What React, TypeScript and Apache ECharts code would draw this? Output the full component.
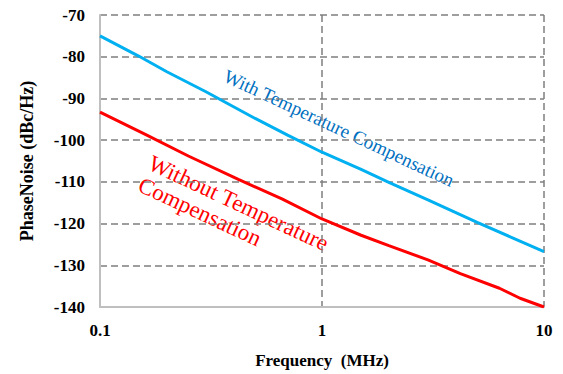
import React, { useEffect, useRef } from "react";
import * as echarts from "echarts";

// Offset frequency in MHz and phase noise in dBc/Hz, per curve
const freqWith = [0.1, 0.15, 0.2, 0.3, 0.5, 0.7, 1, 1.5, 2, 3, 5, 7, 10];
const withCompensation = [-75, -79.9, -83.6, -88.4, -94.8, -98.8, -102.9, -107.0, -110.1, -114.3, -119.7, -123.1, -126.7];
const freqWithout = [0.1, 0.16, 0.25, 0.42, 0.66, 1, 1.5, 2, 3, 4.2, 6.3, 7.8, 10];
const withoutCompensation = [-93.3, -98.6, -103.8, -109.4, -114.1, -118.9, -122.8, -125.3, -128.7, -132, -135.5, -137.9, -140];
const xTickLabels: Record<string, string> = { "0.1": "0.1", "1": "1", "10": "10" };

const SERIF = '"Liberation Serif", "Times New Roman", serif';

export default function App() {
  const ref = useRef<HTMLDivElement>(null);

  useEffect(() => {
    if (!ref.current) return;
    const chart = echarts.init(ref.current, null, { renderer: "svg" });
    const deg = Math.PI / 180;
    chart.setOption({
      animation: false,
      backgroundColor: "#ffffff",
      grid: { left: 100, right: 19, top: 15, bottom: 65 },
      xAxis: {
        type: "log",
        logBase: 10,
        min: 0.1,
        max: 10,
        name: "Frequency  (MHz)",
        nameLocation: "middle",
        nameGap: 45,
        nameTextStyle: { fontFamily: SERIF, fontWeight: "bold", fontSize: 17, color: "#000" },
        axisLine: { show: true, lineStyle: { color: "#bfbfbf", width: 2 } },
        axisTick: { show: false },
        axisLabel: {
          margin: 15,
          fontFamily: SERIF,
          fontWeight: "bold",
          fontSize: 17,
          color: "#000",
          formatter: (v: number) => xTickLabels[String(Number(v.toPrecision(3)))] ?? "",
        },
        splitLine: {
          show: true,
          showMinLine: false,
          lineStyle: { color: "#7f7f7f", width: 1.5, type: [7, 4] },
        },
      },
      yAxis: {
        type: "value",
        min: -140,
        max: -70,
        interval: 10,
        name: "PhaseNoise (dBc/Hz)",
        nameLocation: "middle",
        nameGap: 64,
        nameTextStyle: { fontFamily: SERIF, fontWeight: "bold", fontSize: 18, color: "#000" },
        axisLine: { show: true, lineStyle: { color: "#bfbfbf", width: 2 } },
        axisTick: { show: false },
        axisLabel: { margin: 15, fontFamily: SERIF, fontWeight: "bold", fontSize: 17, color: "#000" },
        splitLine: {
          show: true,
          showMinLine: false,
          lineStyle: { color: "#7f7f7f", width: 1.5, type: [7, 4] },
        },
      },
      series: [
        {
          type: "line",
          name: "With Temperature Compensation",
          data: freqWith.map((f, i) => [f, withCompensation[i]]),
          showSymbol: false,
          lineStyle: { color: "#00b0f0", width: 3 },
        },
        {
          type: "line",
          name: "Without Temperature Compensation",
          data: freqWithout.map((f, i) => [f, withoutCompensation[i]]),
          showSymbol: false,
          lineStyle: { color: "#ff0000", width: 3 },
        },
      ],
      graphic: [
        {
          type: "text",
          x: 339,
          y: 128,
          rotation: -25 * deg,
          style: {
            text: "With Temperature Compensation",
            font: `19px ${SERIF}`,
            fill: "#0070c0",
            align: "center",
            verticalAlign: "middle",
          },
        },
        {
          type: "text",
          x: 155,
          y: 151,
          rotation: -25 * deg,
          style: {
            text: "Without Temperature\nCompensation",
            font: `23px ${SERIF}`,
            lineHeight: 24,
            fill: "#ff0000",
            align: "left",
            verticalAlign: "top",
          },
        },
      ],
    });
    return () => chart.dispose();
  }, []);

  return <div ref={ref} style={{ width: 563, height: 374, position: "absolute", left: 0, top: 0 }} />;
}
